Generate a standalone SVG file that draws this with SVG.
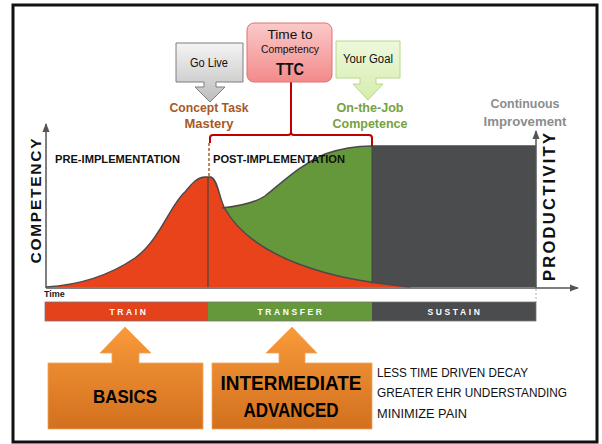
<svg xmlns="http://www.w3.org/2000/svg" width="602" height="444" viewBox="0 0 602 444">
<defs>
<linearGradient id="gGrey" x1="0" y1="0" x2="0" y2="1"><stop offset="0" stop-color="#F4F4F4"/><stop offset="1" stop-color="#BDBDBD"/></linearGradient>
<linearGradient id="gPink" x1="0" y1="0" x2="0" y2="1"><stop offset="0" stop-color="#FBC9C9"/><stop offset="1" stop-color="#F38A8A"/></linearGradient>
<linearGradient id="gGreen" x1="0" y1="0" x2="0" y2="1"><stop offset="0" stop-color="#EEF8DC"/><stop offset="1" stop-color="#D6EDAE"/></linearGradient>
<linearGradient id="gOrange" x1="0" y1="0" x2="0" y2="1"><stop offset="0" stop-color="#F99A3A"/><stop offset="1" stop-color="#D2701E"/></linearGradient>
<marker id="arr" viewBox="0 0 10 10" refX="9" refY="5" markerWidth="6" markerHeight="6" orient="auto"><path d="M0,1 L10,5 L0,9 Z" fill="#555"/></marker>
<style>
.t{font-family:"Liberation Sans",Arial,sans-serif}
.b{font-weight:bold}
.ax{stroke:#555;stroke-width:1.5;fill:none}
.curve{stroke:#4a4a4a;stroke-width:1.5;fill:none}
.bar{font-family:"Liberation Sans",Arial,sans-serif;font-weight:bold;font-size:8.5px;fill:#fff;letter-spacing:2.6px;text-anchor:middle}
.lst{font-family:"Liberation Sans",Arial,sans-serif;font-size:12.5px;fill:#111}
</style>
</defs>
<rect x="0" y="0" width="602" height="444" fill="#fff"/>
<rect x="13" y="5" width="584" height="437" fill="#fff" stroke="#111" stroke-width="3"/>

<g id="chart">
<path d="M222,208 C240,206 255,203 265,196 C285,180 300,165 325,154 C345,147 360,146 372,146 L372,287 L222,287 Z" fill="#64983A"/>
<rect x="372" y="146" width="164" height="141" fill="#4A4C4E"/>
<path d="M46,287 C80,285 110,275 135,258 C160,240 170,205 185,192 C193,182 198,177 205,177 L211,177 C218,180 219,198 225,209 C240,235 270,257 323,272 C350,280 380,284 410,287 Z" fill="#E8431A"/>
<path class="curve" d="M222,208 C240,206 255,203 265,196 C285,180 300,165 325,154 C345,147 360,146 372,146 L536,146"/>
<path class="curve" d="M46,287 C80,285 110,275 135,258 C160,240 170,205 185,192 C193,182 198,177 205,177 L211,177 C218,180 219,198 225,209 C240,235 270,257 323,272 C350,280 380,284 410,287"/>
<line x1="208" y1="177" x2="208" y2="287" stroke="#444" stroke-width="1.2"/>
<line x1="372" y1="146" x2="372" y2="284" stroke="#3f4a3a" stroke-width="1"/>
</g>

<g id="axes">
<line class="ax" x1="46" y1="288" x2="46" y2="124" marker-end="url(#arr)"/>
<line class="ax" x1="46" y1="288" x2="578" y2="288" marker-end="url(#arr)"/>
<line class="ax" x1="536" y1="288" x2="536" y2="131" marker-end="url(#arr)"/>
<line x1="536" y1="289" x2="536" y2="302" stroke="#bbb" stroke-width="1.2" stroke-dasharray="2,2"/>
<text class="t b" x="44" y="297" font-size="9" fill="#222">Time</text>
<text class="t b" transform="translate(41,201) rotate(-90)" font-size="15.5" text-anchor="middle" textLength="125" lengthAdjust="spacing" fill="#111">COMPETENCY</text>
<text class="t b" transform="translate(555,207) rotate(-90)" font-size="16.5" text-anchor="middle" textLength="148" lengthAdjust="spacing" fill="#111">PRODUCTIVITY</text>
<text class="t b" x="55" y="163" font-size="11" textLength="125" lengthAdjust="spacingAndGlyphs" fill="#111">PRE-IMPLEMENTATION</text>
<text class="t b" x="213" y="163" font-size="11" textLength="132" lengthAdjust="spacingAndGlyphs" fill="#111">POST-IMPLEMENTATION</text>
</g>

<g id="connectors">
<path d="M210,143 V138 Q210,135 213,135 H288 Q291,135 291,132 V82 M291,132 Q291,135 294,135 H369 Q372,135 372,138 V146" fill="none" stroke="#C00000" stroke-width="2"/>
<line x1="209" y1="143" x2="209" y2="176" stroke="#B0602A" stroke-width="1.5" stroke-dasharray="3,2"/>
</g>

<g id="golive">
<path d="M176,43 H243 V82 H216 V87 H225 L210,102 L195,87 H204 V82 H176 Z" fill="url(#gGrey)" stroke="#7F7F7F" stroke-width="1"/>
<text class="t" x="209" y="67" font-size="12" text-anchor="middle" textLength="38" lengthAdjust="spacingAndGlyphs" fill="#111">Go Live</text>
<text class="t b" x="209" y="112" font-size="13.5" text-anchor="middle" textLength="79" lengthAdjust="spacingAndGlyphs" fill="#A8581F">Concept Task</text>
<text class="t b" x="209" y="128" font-size="13.5" text-anchor="middle" textLength="49" lengthAdjust="spacingAndGlyphs" fill="#A8581F">Mastery</text>
</g>

<g id="ttc">
<rect x="247" y="23" width="85" height="59" rx="7" fill="url(#gPink)" stroke="#E07272" stroke-width="1"/>
<text class="t" x="290" y="39" font-size="13.5" text-anchor="middle" textLength="45" lengthAdjust="spacingAndGlyphs" fill="#111">Time to</text>
<text class="t" x="290" y="53" font-size="10.5" text-anchor="middle" textLength="58" lengthAdjust="spacingAndGlyphs" fill="#111">Competency</text>
<text class="t b" x="290" y="75" font-size="17" text-anchor="middle" textLength="28" lengthAdjust="spacingAndGlyphs" fill="#111">TTC</text>
</g>

<g id="goal">
<path d="M336,41 H400 V78 H376 V84 H383 L368,100 L353,84 H360 V78 H336 Z" fill="url(#gGreen)" stroke="#B5DA86" stroke-width="1"/>
<text class="t" x="368" y="63" font-size="12" text-anchor="middle" textLength="50" lengthAdjust="spacingAndGlyphs" fill="#111">Your Goal</text>
<text class="t b" x="370" y="112" font-size="13.5" text-anchor="middle" textLength="67" lengthAdjust="spacingAndGlyphs" fill="#76A23E">On-the-Job</text>
<text class="t b" x="370" y="128" font-size="13.5" text-anchor="middle" textLength="75" lengthAdjust="spacingAndGlyphs" fill="#76A23E">Competence</text>
</g>

<g id="continuous">
<text class="t b" x="525" y="108" font-size="12.5" text-anchor="middle" textLength="69" lengthAdjust="spacingAndGlyphs" fill="#8C8C8C">Continuous</text>
<text class="t b" x="525" y="126" font-size="12.5" text-anchor="middle" textLength="83" lengthAdjust="spacingAndGlyphs" fill="#8C8C8C">Improvement</text>
</g>

<g id="bar">
<rect x="45" y="302" width="163" height="19" fill="#E4421A"/>
<rect x="208" y="302" width="164" height="19" fill="#64983A"/>
<rect x="372" y="302" width="164" height="19" fill="#4A4C4E"/>
<rect x="45" y="302" width="491" height="19" fill="none" stroke="#777" stroke-width="0.8"/>
<text class="bar" x="129" y="315">TRAIN</text>
<text class="bar" x="291" y="315">TRANSFER</text>
<text class="bar" x="455" y="315">SUSTAIN</text>
</g>

<g id="basics">
<path d="M48,363 H112 V353 H100 L125,327 L151,353 H139 V363 H203 V429 H48 Z" fill="url(#gOrange)" stroke="#F0A45C" stroke-width="0.8"/>
<text class="t b" x="125" y="403" font-size="19" text-anchor="middle" textLength="64" lengthAdjust="spacingAndGlyphs" fill="#000">BASICS</text>
</g>

<g id="intermediate">
<path d="M212,363 H279 V353 H266 L292,327 L317,353 H305 V363 H372 V429 H212 Z" fill="url(#gOrange)" stroke="#F0A45C" stroke-width="0.8"/>
<text class="t b" x="291" y="390" font-size="19.5" text-anchor="middle" textLength="141" lengthAdjust="spacingAndGlyphs" fill="#000">INTERMEDIATE</text>
<text class="t b" x="291" y="417" font-size="19.5" text-anchor="middle" textLength="95" lengthAdjust="spacingAndGlyphs" fill="#000">ADVANCED</text>
</g>

<g id="benefits">
<text class="lst" x="377" y="377" textLength="151" lengthAdjust="spacingAndGlyphs">LESS TIME DRIVEN DECAY</text>
<text class="lst" x="377" y="397" textLength="190" lengthAdjust="spacingAndGlyphs">GREATER EHR UNDERSTANDING</text>
<text class="lst" x="377" y="418" textLength="90" lengthAdjust="spacingAndGlyphs">MINIMIZE PAIN</text>
</g>
</svg>
